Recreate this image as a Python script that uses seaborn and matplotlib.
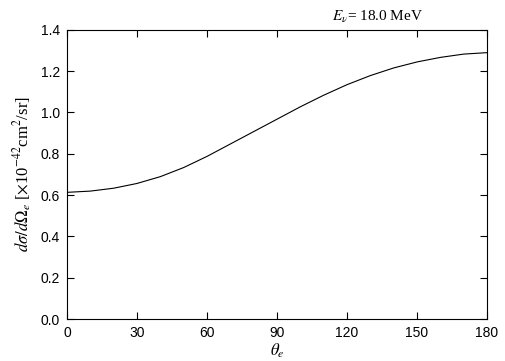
import matplotlib
matplotlib.use('Agg')
import matplotlib.pyplot as plt
import pandas as pd
import seaborn as sns

# angle (deg) and cross section
theta = [0, 10, 20, 30, 40, 50, 60, 70, 80, 90, 100, 110, 120, 130, 140, 150, 160, 170, 180]
dsigma = [0.613, 0.619, 0.633, 0.656, 0.689, 0.733, 0.787, 0.847, 0.907, 0.967,
          1.027, 1.083, 1.134, 1.178, 1.215, 1.244, 1.266, 1.282, 1.289]
xticks = [0, 30, 60, 90, 120, 150, 180]
yticks = [0.0, 0.2, 0.4, 0.6, 0.8, 1.0, 1.2, 1.4]

sns.set_style("ticks")
plt.rcParams['font.family'] = ['Liberation Sans', 'DejaVu Sans']
plt.rcParams['mathtext.fontset'] = 'stix'
plt.rcParams['xtick.direction'] = 'in'
plt.rcParams['ytick.direction'] = 'in'
plt.rcParams['text.color'] = 'black'
plt.rcParams['axes.labelcolor'] = 'black'
plt.rcParams['xtick.color'] = 'black'
plt.rcParams['ytick.color'] = 'black'

df = pd.DataFrame({"theta": theta, "dsigma": dsigma})

fig = plt.figure(figsize=(5.05, 3.61), dpi=100)
ax = fig.add_axes([0.1327, 0.1163, 0.8317, 0.8014])
sns.lineplot(data=df, x="theta", y="dsigma", color="black", linewidth=0.8, ax=ax)

ax.set_xlim(0, 180)
ax.set_ylim(0, 1.4)
ax.set_xticks(xticks)
ax.set_yticks(yticks)
ax.set_yticklabels([f"{v:.1f}" for v in yticks])
ax.tick_params(top=True, right=True, length=5, width=0.8, labelsize=10, pad=5)
for s in ax.spines.values():
    s.set_linewidth(0.8)
    s.set_color("black")

serif = ['Liberation Serif', 'DejaVu Serif']
# title sits right of centre in the reference
ax.text(0.74, 1.015, r"$E_\nu$= 18.0 MeV", transform=ax.transAxes, ha="center", va="bottom",
        fontsize=11, family=serif)
ax.set_xlabel(r"$\theta_e$", fontsize=12, labelpad=1)
ax.set_ylabel(r"$d\sigma/d\Omega_e$ [$\times$10$^{-42}$cm$^2$/sr]", fontsize=12, family=serif, labelpad=5)

fig.savefig("out.png", dpi=100)
